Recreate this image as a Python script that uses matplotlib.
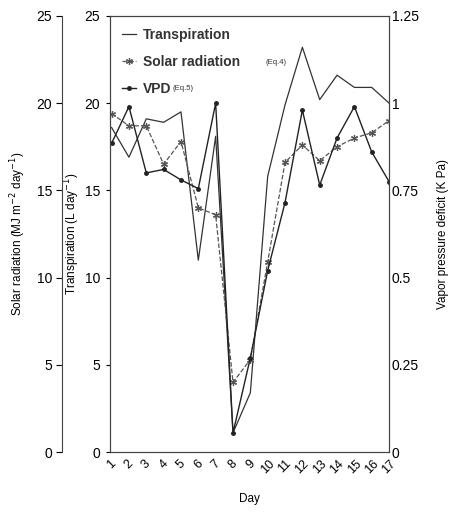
import numpy as np
import matplotlib
matplotlib.use("Agg")
import matplotlib.pyplot as plt

plt.rcParams['font.family'] = ['Liberation Sans', 'DejaVu Sans']

days = np.arange(1, 18)
transpiration = [18.6, 16.9, 19.1, 18.9, 19.5, 11.0, 18.1, 1.1, 3.4,
                 15.8, 19.9, 23.2, 20.2, 21.6, 20.9, 20.9, 20.0]
solar = [19.4, 18.7, 18.7, 16.5, 17.8, 14.0, 13.6, 4.0, 5.3,
         10.9, 16.6, 17.6, 16.7, 17.5, 18.0, 18.3, 19.0]
vpd = [0.885, 0.99, 0.80, 0.81, 0.78, 0.755, 1.0, 0.055, 0.27,
       0.52, 0.715, 0.98, 0.765, 0.90, 0.99, 0.86, 0.775]

line_c = '#333333'

fig = plt.figure(figsize=(4.54, 5.12), dpi=100)
ax = fig.add_axes([0.242, 0.117, 0.615, 0.852])

# transpiration on the inner left axis
ax.plot(days, transpiration, '-', color=line_c, lw=0.9, label='Transpiration')
ax.set_xlim(0.9, 17)
ax.set_ylim(0, 25)
ax.set_yticks([0, 5, 10, 15, 20, 25])
ax.set_xticks(days)
ax.set_xticklabels([str(d) for d in days], rotation=45, ha='center', fontsize=9)
ax.tick_params(axis='x', length=0, pad=4)
ax.tick_params(axis='y', length=3, labelsize=10, pad=4)
ax.set_ylabel('Transpiration (L day$^{-1}$)', fontsize=8.5)
ax.yaxis.set_label_coords(-0.1, 0.5)
ax.set_xlabel('Day', fontsize=8.5, labelpad=12)

# solar radiation on outer left axis
ax_s = ax.twinx()
ax_s.spines['left'].set_position(('axes', -0.172))
ax_s.spines['left'].set_visible(True)
ax_s.spines['right'].set_visible(False)
ax_s.spines['top'].set_visible(False)
ax_s.spines['bottom'].set_visible(False)
ax_s.yaxis.set_label_position('left')
ax_s.yaxis.set_ticks_position('left')
ax_s.set_ylim(0, 25)
ax_s.set_yticks([0, 5, 10, 15, 20, 25])
ax_s.tick_params(axis='y', length=4, labelsize=10, pad=3)
ax_s.set_ylabel('Solar radiation (MJ m$^{-2}$ day$^{-1}$)', fontsize=8.5)
ax_s.yaxis.set_label_coords(-0.294, 0.5)
ax_s.plot(days, solar, '--', color='#555555', lw=0.9, marker=(6, 2, 0),
          ms=5, mew=0.9, label='Solar radiation')

# VPD on right axis
ax_v = ax.twinx()
ax_v.set_ylim(0, 1.25)
ax_v.set_yticks([0, 0.25, 0.5, 0.75, 1, 1.25])
ax_v.set_yticklabels(['0', '0.25', '0.5', '0.75', '1', '1.25'])
ax_v.tick_params(axis='y', length=0, labelsize=10, pad=2)
ax_v.set_ylabel('Vapor pressure deficit (K Pa)', fontsize=8.5)
ax_v.yaxis.set_label_coords(1.17, 0.5)
ax_v.plot(days, vpd, '-', color='#222222', lw=1.0, marker='o', ms=2.5,
          label='VPD')

for a in (ax, ax_s, ax_v):
    for sp in a.spines.values():
        sp.set_linewidth(0.8)
        sp.set_color('#444444')

handles = [ax.lines[0], ax_s.lines[0], ax_v.lines[0]]
leg = ax_v.legend(handles, [h.get_label() for h in handles], loc='upper left',
                  frameon=False, handlelength=1.0, handletextpad=0.5,
                  fontsize=10, labelspacing=0.95, borderaxespad=0.45)
for t in leg.get_texts():
    t.set_fontweight('bold')
    t.set_color('#333333')

ax_v.text(0.556, 0.892, '(Eq.4)', transform=ax.transAxes, fontsize=5.5,
          ha='left', va='center', color='#333333')
ax_v.text(0.225, 0.834, '(Eq.5)', transform=ax.transAxes, fontsize=5.5,
          ha='left', va='center', color='#333333')

fig.savefig('out.png', dpi=100)
